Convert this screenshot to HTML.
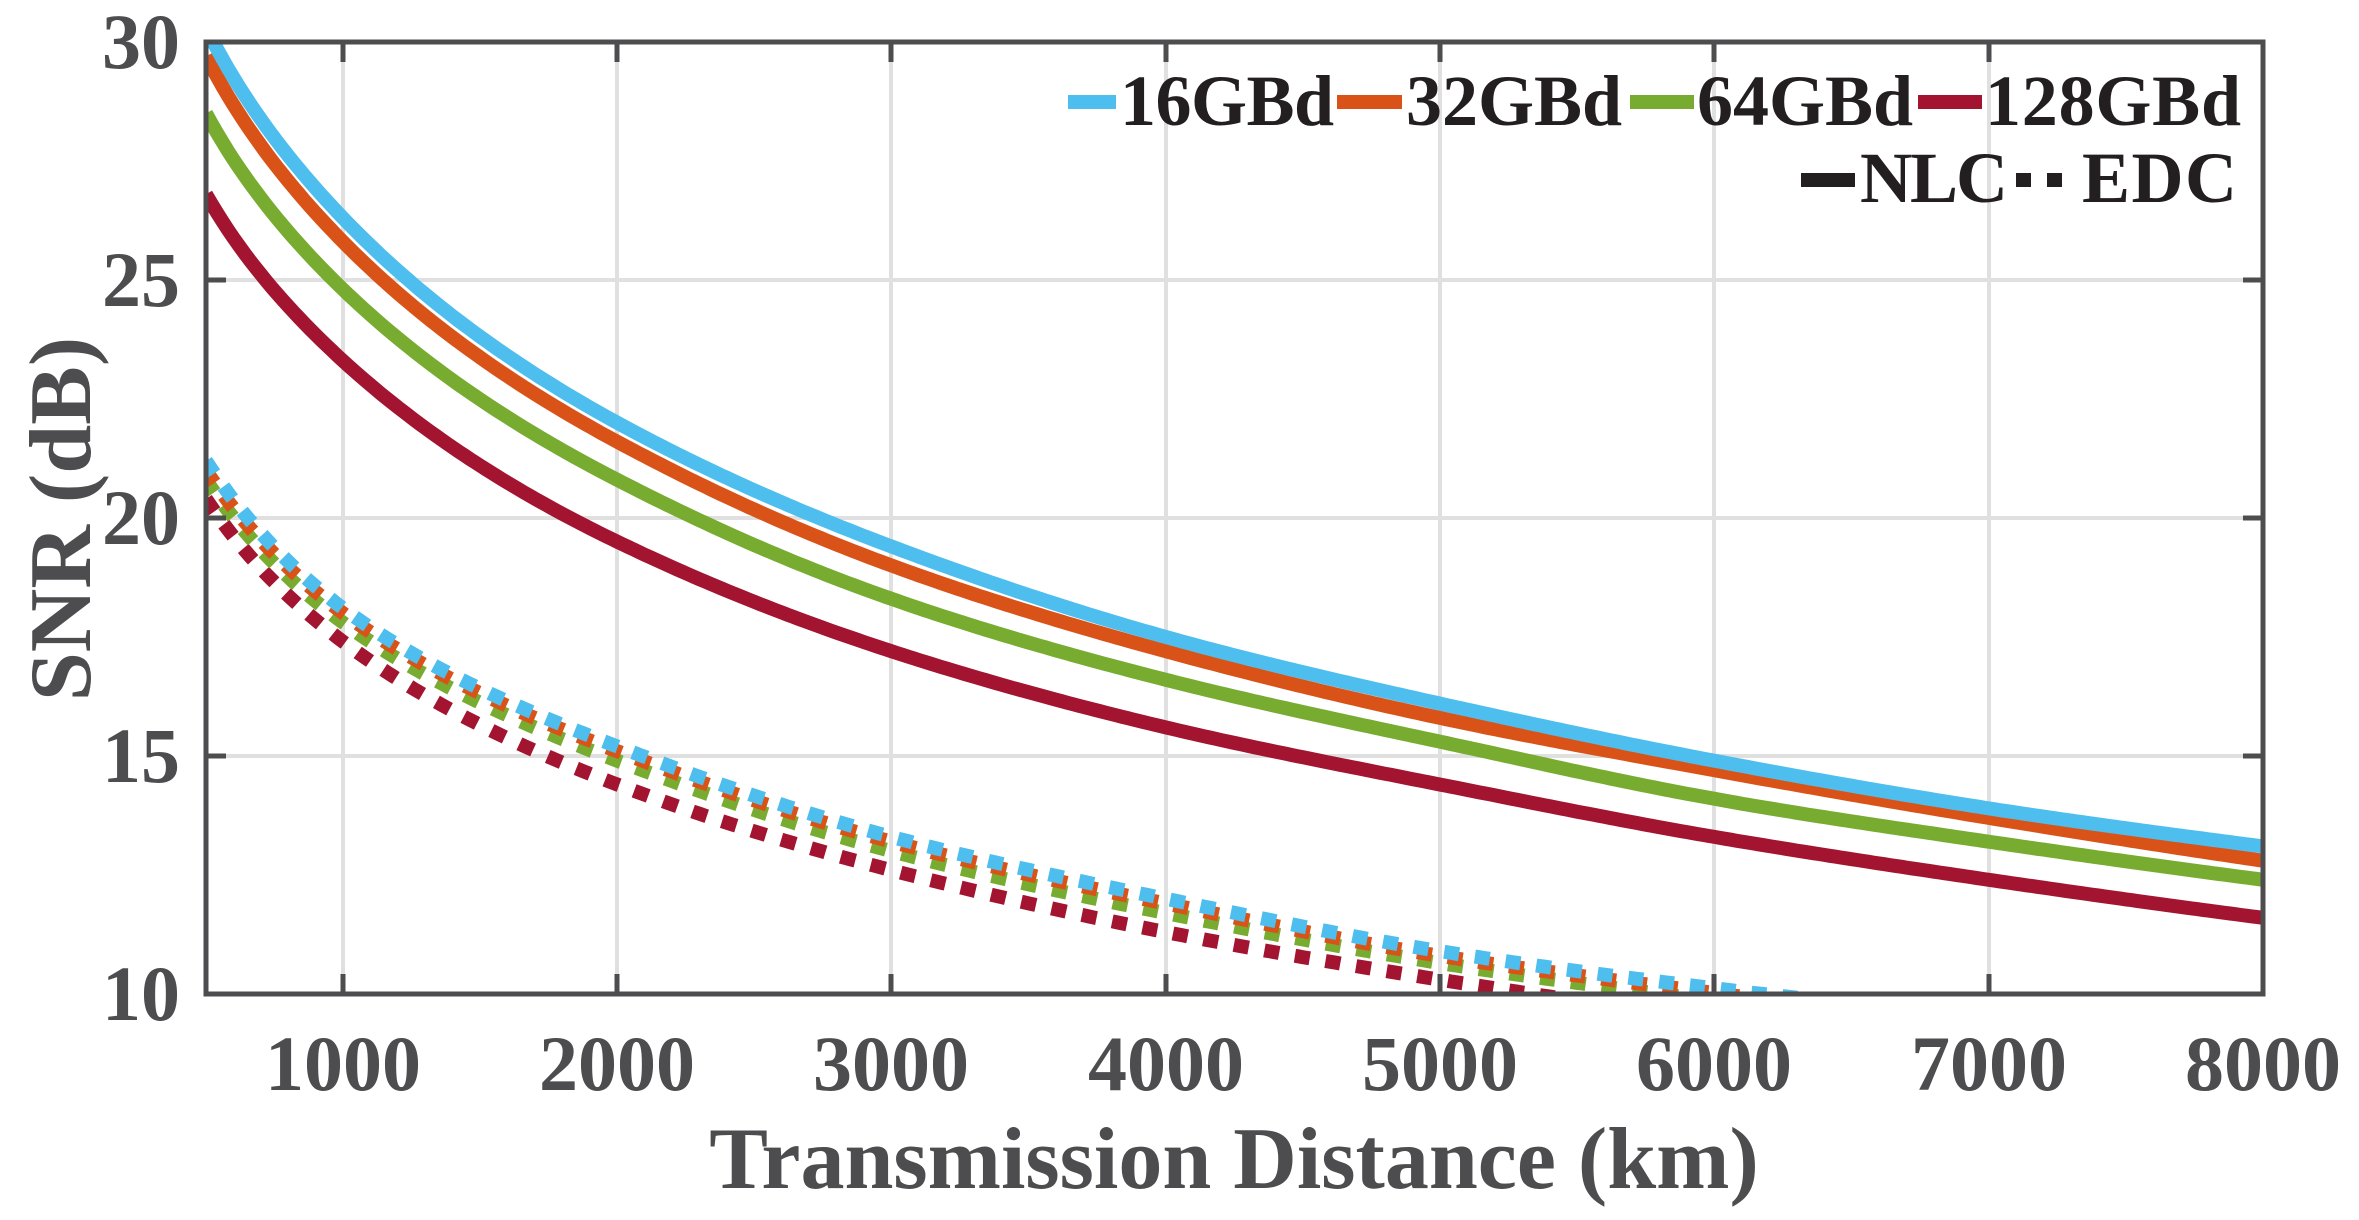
<!DOCTYPE html>
<html><head><meta charset="utf-8"><style>
html,body{margin:0;padding:0;background:#fff;}
svg{display:block;}
text{font-family:"Liberation Serif",serif;font-weight:bold;}
</style></head><body>
<svg id="s" width="2359" height="1220" viewBox="0 0 2359 1220" xmlns="http://www.w3.org/2000/svg">
<defs><clipPath id="c"><rect x="206" y="42" width="2057" height="952"/></clipPath></defs>
<g stroke="#e0e0e0" stroke-width="4">
<line x1="343" y1="42" x2="343" y2="994"/><line x1="617" y1="42" x2="617" y2="994"/><line x1="891" y1="42" x2="891" y2="994"/><line x1="1166" y1="42" x2="1166" y2="994"/><line x1="1440" y1="42" x2="1440" y2="994"/><line x1="1714" y1="42" x2="1714" y2="994"/><line x1="1989" y1="42" x2="1989" y2="994"/>
<line x1="206" y1="280" x2="2263" y2="280"/><line x1="206" y1="518" x2="2263" y2="518"/><line x1="206" y1="756" x2="2263" y2="756"/>
</g>
<g id="curves" clip-path="url(#c)" fill="none"></g>
<g stroke="#4d4d4f" stroke-width="5" fill="none">
<rect x="206" y="42" width="2057" height="952"/>
<path d="M343 994v-20M617 994v-20M891 994v-20M1166 994v-20M1440 994v-20M1714 994v-20M1989 994v-20M343 42v20M617 42v20M891 42v20M1166 42v20M1440 42v20M1714 42v20M1989 42v20M206 280h20M206 518h20M206 756h20M2263 280h-20M2263 518h-20M2263 756h-20"/>
</g>
<g fill="#4d4d4f" font-size="78" text-anchor="middle">
<text x="343" y="1090">1000</text><text x="617" y="1090">2000</text><text x="891" y="1090">3000</text><text x="1166" y="1090">4000</text><text x="1440" y="1090">5000</text><text x="1714" y="1090">6000</text><text x="1989" y="1090">7000</text><text x="2263" y="1090">8000</text>
</g>
<g fill="#4d4d4f" font-size="78" text-anchor="end">
<text x="180" y="68">30</text><text x="180" y="306">25</text><text x="180" y="544">20</text><text x="180" y="782">15</text><text x="180" y="1020">10</text>
</g>
<text x="1234" y="1188" font-size="88" fill="#4d4d4f" text-anchor="middle">Transmission Distance (km)</text>
<text transform="translate(90,519) rotate(-90)" font-size="88" fill="#4d4d4f" text-anchor="middle">SNR (dB)</text>
<g font-size="72" fill="#231f20">
<line x1="1068" y1="102" x2="1116" y2="102" stroke="#4DBEEE" stroke-width="14"/><text x="1120" y="125" textLength="214">16GBd</text>
<line x1="1337" y1="102" x2="1402" y2="102" stroke="#D95319" stroke-width="14"/><text x="1406" y="125" textLength="216">32GBd</text>
<line x1="1630" y1="102" x2="1694" y2="102" stroke="#77AC30" stroke-width="14"/><text x="1697" y="125" textLength="216">64GBd</text>
<line x1="1918" y1="102" x2="1982" y2="102" stroke="#A2142F" stroke-width="14"/><text x="1985" y="125" textLength="256">128GBd</text>
<line x1="1801" y1="180" x2="1855" y2="180" stroke="#231f20" stroke-width="14"/><text x="1860" y="202" textLength="148">NLC</text>
<line x1="2016" y1="180" x2="2062" y2="180" stroke="#231f20" stroke-width="14" stroke-dasharray="15 16"/><text x="2082" y="202" textLength="155">EDC</text>
</g>
</svg>
<script>
var X=function(L){return 206+(L-500)*2057/7500;};
var Y=function(s){return 42+(30-s)*952/20;};
var Ls=[500,1000,2000,3000,4000,5000,6000,7000,8000];
var series=[
["#A2142F",[26.8,23.3,19.5,17.2,15.6,14.4,13.3,12.4,11.6],0],
["#77AC30",[28.5,24.8,20.8,18.3,16.6,15.3,14.1,13.2,12.4],0],
["#D95319",[29.7,25.8,21.6,19.0,17.2,15.8,14.7,13.7,12.8],0],
["#4DBEEE",[30.3,26.3,22.0,19.4,17.5,16.1,14.9,13.9,13.1],0],
["#A2142F",[20.4,17.4,14.4,12.6,11.3,10.3,9.45,8.7,8.0],1],
["#77AC30",[20.8,17.8,14.9,13.0,11.7,10.65,9.85,9.1,8.5],1],
["#D95319",[21.0,18.0,15.1,13.2,11.9,10.8,10.02,9.3,8.7],1],
["#4DBEEE",[21.2,18.1,15.2,13.3,12.0,10.9,10.12,9.5,8.9],1]
];
var g=document.getElementById('curves');
series.forEach(function(s){
 var u=Ls.map(function(L){return Math.log(L);}), v=s[1], n=u.length;
 var m=[];
 for(var i=0;i<n;i++){
  if(i==0) m[i]=(v[1]-v[0])/(u[1]-u[0]);
  else if(i==n-1) m[i]=(v[n-1]-v[n-2])/(u[n-1]-u[n-2]);
  else m[i]=(v[i+1]-v[i-1])/(u[i+1]-u[i-1]);
 }
 var pts=[];
 for(var L=500;L<=8000;L+=20){
  var t=Math.log(L),k=0;
  while(k<n-2 && t>u[k+1]) k++;
  var h=u[k+1]-u[k],w=(t-u[k])/h,w2=w*w,w3=w2*w;
  var val=(2*w3-3*w2+1)*v[k]+(w3-2*w2+w)*h*m[k]+(-2*w3+3*w2)*v[k+1]+(w3-w2)*h*m[k+1];
  pts.push(X(L).toFixed(1)+' '+Y(val).toFixed(1));
 }
 var e=document.createElementNS('http://www.w3.org/2000/svg','path');
 e.setAttribute('d','M'+pts.join(' L'));e.setAttribute('stroke',s[0]);e.setAttribute('stroke-width','14');
 if(s[2])e.setAttribute('stroke-dasharray','15 16');
 g.appendChild(e);
});
</script>
</body></html>
